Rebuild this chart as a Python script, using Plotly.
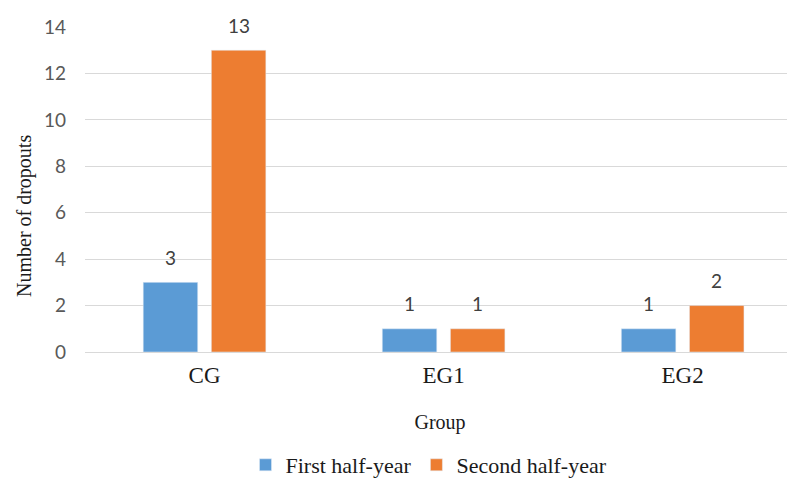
import plotly.graph_objects as go

groups = ["CG", "EG1", "EG2"]
first_half = [3, 1, 1]
second_half = [13, 1, 2]
series_names = ["First half-year", "Second half-year"]
y_ticks = [0, 2, 4, 6, 8, 10, 12, 14]

# page body has an 8px margin; size the figure so it fits the 795x486 window
W, H = 787, 478
ml, mr, mt, mb = 77, 0, 19, 134

sans = "Lato, Open Sans, Liberation Sans, sans-serif"
label_font = dict(family=sans, size=19, color="#404040")
serif = "Liberation Serif, Times New Roman, serif"

fig = go.Figure()
fig.add_trace(go.Bar(x=groups, y=first_half, name=series_names[0],
                     marker_color="#5B9BD5", offsetgroup="a"))
fig.add_trace(go.Bar(x=groups, y=second_half, name=series_names[1],
                     marker_color="#ED7D31", offsetgroup="b"))

# data labels above bars
for vals, xs in ((first_half, -34), (second_half, 34)):
    for g, v in zip(groups, vals):
        fig.add_annotation(x=g, y=v, text=str(v), showarrow=False, xshift=xs, yshift=25,
                           font=label_font, xanchor="center", yanchor="middle")

pw, ph = W - ml - mr, H - mt - mb
fig.add_annotation(xref="paper", yref="paper", x=(16 - ml) / pw,
                   y=(H - mb - 208) / ph, text="Number of dropouts", textangle=-90,
                   showarrow=False, xanchor="center", yanchor="middle",
                   font=dict(family=serif, size=20, color="#1a1a1a"))

fig.update_layout(
    width=W, height=H,
    margin=dict(l=ml, r=mr, t=mt, b=mb),
    paper_bgcolor="white", plot_bgcolor="white",
    barmode="group", bargap=0.43, bargroupgap=0.2,
    showlegend=True,
    legend=dict(orientation="h", x=421 / W, xanchor="center", xref="container",
                y=(H - 457) / H, yanchor="middle", yref="container",
                font=dict(family=serif, size=22, color="#1a1a1a"),
                itemwidth=30, traceorder="normal"),
    xaxis=dict(range=[-0.5, 2.47], showgrid=False, showline=False, ticks="", automargin=False,
               ticklabelstandoff=7,
               tickfont=dict(family=serif, size=23, color="#1a1a1a"),
               title=dict(text="Group", font=dict(family=serif, size=20, color="#1a1a1a"), standoff=27)),
    yaxis=dict(range=[0, 14], tickvals=y_ticks, showgrid=True, gridcolor="#d9d9d9", gridwidth=1.3,
               zeroline=True, zerolinecolor="#d9d9d9", zerolinewidth=1.3, automargin=False,
               showline=False, ticks="", ticklabelstandoff=18,
               tickfont=dict(family=sans, size=19, color="#595959")),
)

fig.write_html("out.html")
